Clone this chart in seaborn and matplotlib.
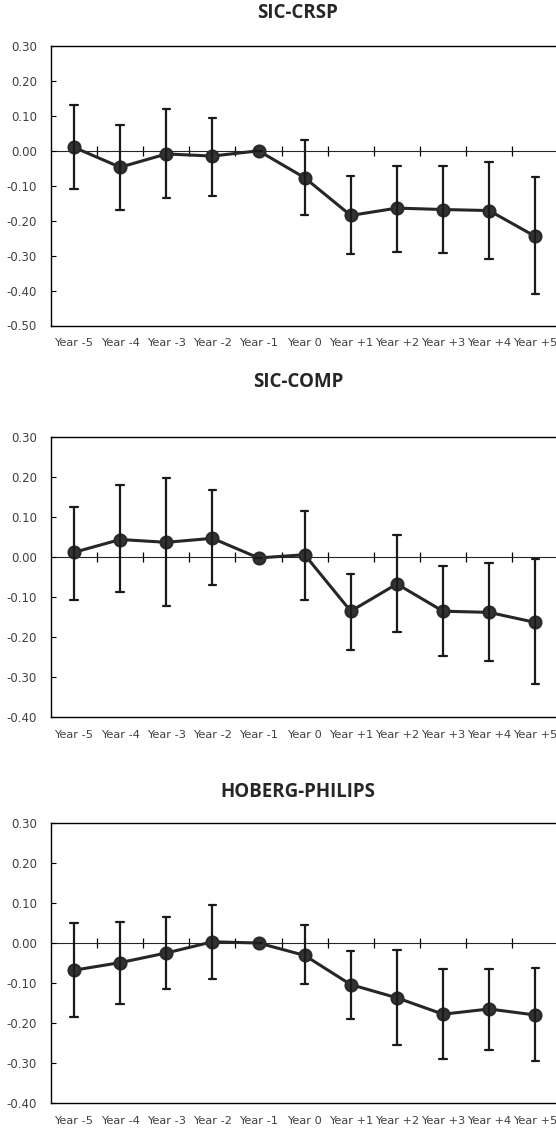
import numpy as np
import pandas as pd
import matplotlib
matplotlib.use("Agg")
import matplotlib.pyplot as plt
import matplotlib.ticker as mticker
import seaborn as sns

years = ["Year -5", "Year -4", "Year -3", "Year -2", "Year -1", "Year 0",
         "Year +1", "Year +2", "Year +3", "Year +4", "Year +5"]

titles = ["SIC-CRSP", "SIC-COMP", "HOBERG-PHILIPS"]

crsp_mean = [0.010, -0.047, -0.009, -0.015, 0.000, -0.077, -0.185, -0.164, -0.168, -0.171, -0.245]
crsp_upper = [0.130, 0.074, 0.120, 0.095, 0.000, 0.030, -0.071, -0.044, -0.044, -0.033, -0.074]
crsp_lower = [-0.108, -0.170, -0.134, -0.128, 0.000, -0.184, -0.295, -0.289, -0.292, -0.310, -0.410]

comp_mean = [0.012, 0.044, 0.037, 0.047, -0.002, 0.006, -0.135, -0.067, -0.135, -0.138, -0.163]
comp_upper = [0.125, 0.179, 0.198, 0.167, -0.002, 0.116, -0.042, 0.055, -0.023, -0.015, -0.005]
comp_lower = [-0.106, -0.088, -0.121, -0.070, -0.002, -0.106, -0.231, -0.188, -0.246, -0.259, -0.317]

hp_mean = [-0.068, -0.049, -0.025, 0.003, 0.000, -0.031, -0.104, -0.137, -0.178, -0.165, -0.180]
hp_upper = [0.050, 0.053, 0.066, 0.096, 0.000, 0.044, -0.020, -0.017, -0.066, -0.066, -0.063]
hp_lower = [-0.186, -0.152, -0.116, -0.091, 0.000, -0.103, -0.191, -0.256, -0.289, -0.268, -0.295]

y_limits = [(-0.50, 0.30), (-0.40, 0.30), (-0.40, 0.30)]

series = [(crsp_mean, crsp_lower, crsp_upper),
          (comp_mean, comp_lower, comp_upper),
          (hp_mean, hp_lower, hp_upper)]

sns.set_style("white")
plt.rcParams["font.family"] = ["DejaVu Sans"]

W, H = 556, 1132
fig = plt.figure(figsize=(W / 100, H / 100), dpi=100)

boxes = [(46, 325.5), (437, 717.3), (823, 1103)]
title_y = [13, 382, 792]
left_px, right_px = 51, 556

line_col = "#262626"
text_col = "#404040"


def fmt(v, pos):
    v = round(v, 2)
    if abs(v) < 1e-9:
        v = 0.0
    return f"{v:.2f}"


for i, (ttl, (m, lo, up), (ymin, ymax), (top, bot)) in enumerate(
        zip(titles, series, y_limits, boxes)):
    ax = fig.add_axes([left_px / W, 1 - bot / H, (right_px - left_px) / W, (bot - top) / H])
    rows = []
    for yr, a, b, c in zip(years, lo, m, up):
        for v in (a, b, c):
            rows.append({"year": yr, "value": v})
    df = pd.DataFrame(rows)
    sns.pointplot(data=df, x="year", y="value", order=years, ax=ax,
                  estimator="median", errorbar=("pi", 100), capsize=0.16,
                  color=line_col, markers="o", markersize=8.5, linewidth=2.2,
                  err_kws={"linewidth": 1.6, "color": "#1a1a1a"})
    for ln in ax.lines:
        ln.set_markerfacecolor("#333333")
        ln.set_markeredgecolor("#2a2a2a")
    ax.set_xlim(-0.5, 10.45)
    ax.set_ylim(ymin, ymax)
    ax.set_xlabel("")
    ax.set_ylabel("")
    ax.set_yticks(np.round(np.arange(ymin, ymax + 0.001, 0.1), 2))
    ax.yaxis.set_major_formatter(mticker.FuncFormatter(fmt))
    ax.tick_params(axis="y", direction="in", length=3.5, width=0.8, pad=10,
                   labelsize=8.5, labelcolor=text_col, color="black", left=True)
    ax.tick_params(axis="x", length=0, pad=9, labelsize=8.2, labelcolor=text_col)
    for s in ["left", "bottom", "top"]:
        ax.spines[s].set_visible(True)
        ax.spines[s].set_color("black")
        ax.spines[s].set_linewidth(1.0)
    ax.spines["right"].set_visible(False)
    frac = (0 - ymin) / (ymax - ymin)
    sec = ax.secondary_xaxis(frac)
    sec.set_xticks(np.arange(0.5, 10.5, 1.0))
    sec.set_xticklabels([])
    sec.tick_params(direction="inout", length=6.5, width=0.9, color="black")
    sec.spines["bottom"].set_linewidth(1.0)
    sec.spines["bottom"].set_color("black")
    ax.set_zorder(1)
    fig.text(298 / W, 1 - title_y[i] / H, ttl, ha="center", va="center",
             fontsize=13.5, fontweight="bold", color="#262626",
             family=["Open Sans", "DejaVu Sans"])

fig.savefig("out.png", dpi=100, facecolor="white")
